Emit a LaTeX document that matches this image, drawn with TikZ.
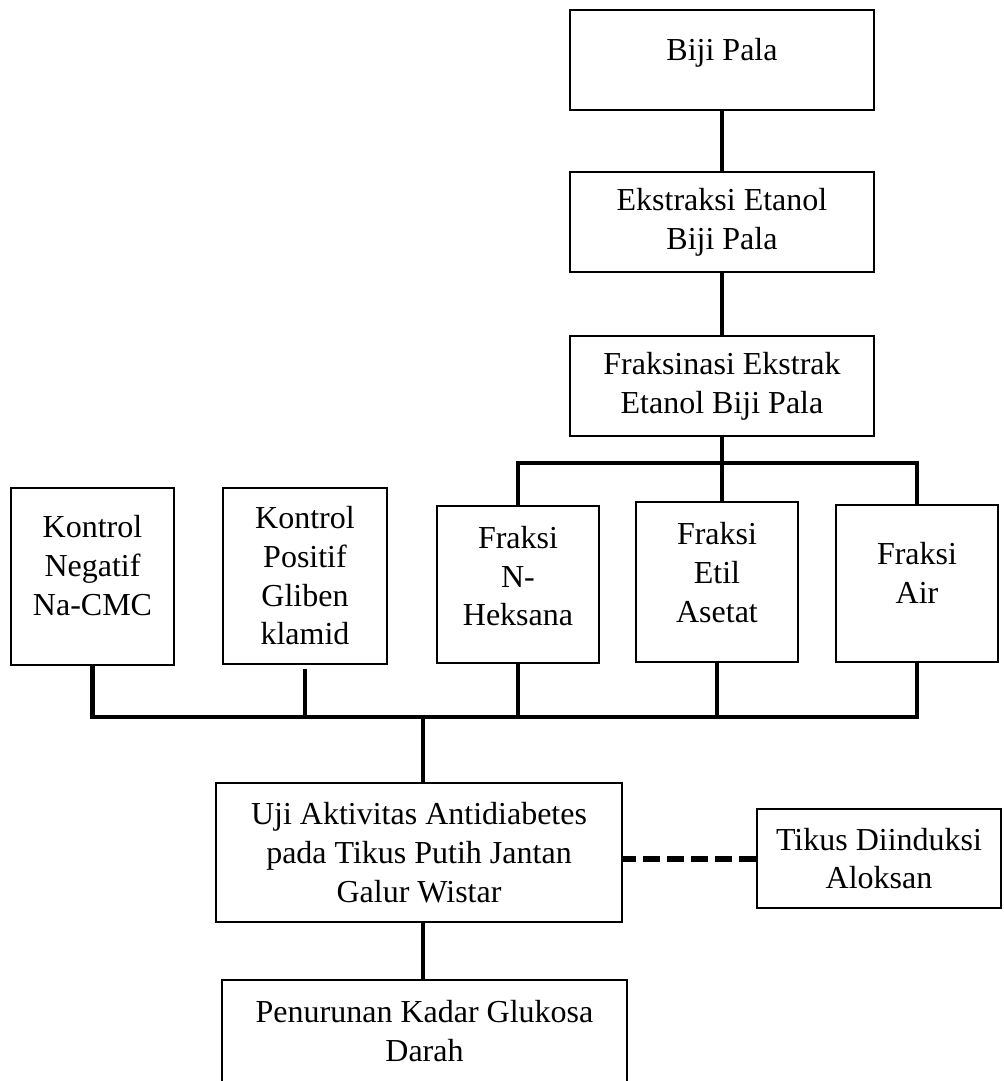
\documentclass[tikz,border=0pt]{standalone}
\usepackage{fontspec}
\setmainfont{Liberation Serif}
\usepackage{tikz}
\usetikzlibrary{positioning, calc}

\begin{document}
\begin{tikzpicture}[
  x=0.75pt, y=-0.75pt,
  box/.style={draw=black, line width=2.2pt, align=center, inner sep=0pt,
    font=\fontsize{24}{29}\selectfont},
  lift/.style={text depth=#1},
  link/.style={draw=black, line width=3.4pt},
  dashlink/.style={draw=black, line width=4.5pt, dash pattern=on 12.75pt off 5.25pt}
]
\useasboundingbox (0,0) rectangle (1003,1081);
\clip (0,0) rectangle (1003,1081);

% Bahan dan ekstraksi
\node[box, minimum width=228pt, minimum height=75pt, lift=16.5pt] (biji) at (722,60) {Biji Pala};
\node[box, minimum width=228pt, minimum height=75pt] (ekstrak) at (722,222) {Ekstraksi Etanol\\Biji Pala};
\node[box, minimum width=228pt, minimum height=75pt] (fraksinasi) at (722,386) {Fraksinasi Ekstrak\\Etanol Biji Pala};

% Kelompok perlakuan
\node[box, minimum width=122.25pt, minimum height=132.75pt, lift=16.5pt] (kneg) at (92.5,576.5) {Kontrol\\Negatif\\Na-CMC};
\node[box, minimum width=123pt, minimum height=132pt] (kpos) at (305,576) {Kontrol\\Positif\\Gliben\\klamid};
\node[box, minimum width=121.5pt, minimum height=117.75pt, lift=12.75pt] (nheksana) at (518,584.5) {Fraksi\\N-\\Heksana};
\node[box, minimum width=121.5pt, minimum height=120pt, lift=14.25pt] (etil) at (717,582) {Fraksi\\Etil\\Asetat};
\node[box, minimum width=121.5pt, minimum height=117.75pt, lift=15.75pt] (air) at (917,583.5) {Fraksi\\Air};

% Uji dan hasil
\node[box, minimum width=304.5pt, minimum height=104.25pt] (uji) at (419,852.5) {Uji Aktivitas Antidiabetes\\pada Tikus Putih Jantan\\Galur Wistar};
\node[box, minimum width=183pt, minimum height=74.25pt] (tikus) at (879,858.5) {Tikus Diinduksi\\Aloksan};
\node[box, minimum width=303.75pt, minimum height=105pt, lift=28.5pt] (penurunan) at (424.5,1050) {Penurunan Kadar Glukosa\\Darah};

\coordinate (split) at (722,463);
\coordinate (merge) at (423,717);

% Garis penghubung
\draw[link] (biji) -- (ekstrak);
\draw[link] (ekstrak) -- (fraksinasi);
\draw[link] (fraksinasi.south) -- (fraksinasi.south |- etil.north);
\draw[link] (nheksana.north) |- (split) -| (air.north);

\draw[link] (kneg.south) |- (merge) -| (air.south);
\draw[link, shorten <=3pt] (kpos.south) -- (kpos.south |- merge);
\draw[link] (nheksana.south) -- (nheksana.south |- merge);
\draw[link] (etil.south) -- (etil.south |- merge);
\draw[link] (merge) -- (merge |- uji.north);
\draw[link] (uji.south -| merge) -- (penurunan.north -| merge);

\draw[dashlink] (tikus.west) -- (tikus.west -| uji.east);

\end{tikzpicture}
\end{document}
